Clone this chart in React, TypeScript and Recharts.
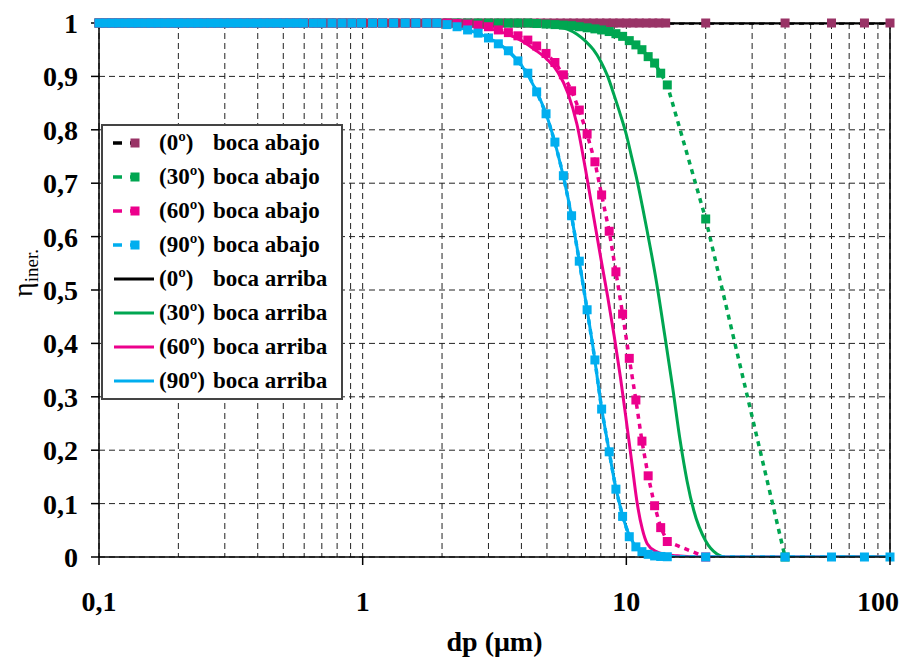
import React from "react";
import { LineChart, Line, XAxis, YAxis, CartesianGrid, Legend, ReferenceLine } from "recharts";

const FONT = '"Liberation Serif", "Times New Roman", serif';

const PURPLE = "#993366";
const GREEN = "#00A651";
const PINK = "#EC008C";
const CYAN = "#00AEEF";

// axis ticks
const X_TICKS = [0.1, 0.2, 0.3, 0.4, 0.5, 0.6, 0.7, 0.8, 0.9, 1, 2, 3, 4, 5, 6, 7, 8, 9, 10, 20, 30, 40, 50, 60, 70, 80, 90, 100];
const X_TICK_LABELS = ["0,1", "", "", "", "", "", "", "", "", "1", "", "", "", "", "", "", "", "", "10", "", "", "", "", "", "", "", "", "100"];
const Y_TICKS = [0, 0.1, 0.2, 0.3, 0.4, 0.5, 0.6, 0.7, 0.8, 0.9, 1];
const Y_TICK_LABELS = ["0", "0,1", "0,2", "0,3", "0,4", "0,5", "0,6", "0,7", "0,8", "0,9", "1"];

// dp (µm) of the 0º "boca abajo" points
const DP_0_ABAJO = [
  0.1, 0.106, 0.112, 0.119, 0.126, 0.133, 0.141, 0.15, 0.158, 0.168,
  0.178, 0.188, 0.2, 0.211, 0.224, 0.237, 0.251, 0.266, 0.282, 0.299,
  0.316, 0.335, 0.355, 0.376, 0.398, 0.422, 0.447, 0.473, 0.501, 0.531,
  0.562, 0.596, 0.631, 0.668, 0.708, 0.75, 0.794, 0.841, 0.891, 0.944,
  1, 1.06, 1.12, 1.19, 1.26, 1.33, 1.41, 1.5, 1.58, 1.68,
  1.78, 1.88, 2, 2.11, 2.24, 2.37, 2.51, 2.66, 2.82, 2.99,
  3.16, 3.35, 3.55, 3.76, 3.98, 4.22, 4.47, 4.73, 5.01, 5.31,
  5.62, 5.96, 6.31, 6.68, 7.08, 7.5, 7.94, 8.41, 8.91, 9.44,
  10, 10.6, 11.2, 11.9, 12.6, 13.3, 14.1,
  20, 40, 60, 80, 100,
];
const ETA_0_ABAJO = [
  1, 1, 1, 1, 1, 1, 1, 1, 1, 1,
  1, 1, 1, 1, 1, 1, 1, 1, 1, 1,
  1, 1, 1, 1, 1, 1, 1, 1, 1, 1,
  1, 1, 1, 1, 1, 1, 1, 1, 1, 1,
  1, 1, 1, 1, 1, 1, 1, 1, 1, 1,
  1, 1, 1, 1, 1, 1, 1, 1, 1, 1,
  1, 1, 1, 1, 1, 1, 1, 1, 1, 1,
  1, 1, 1, 1, 1, 1, 1, 1, 1, 1,
  1, 1, 1, 1, 1, 1, 1,
  1, 1, 1, 1, 1,
];

// dp (µm) of the 30º / 60º / 90º "boca abajo" points
const DP_ABAJO = [
  0.1, 0.106, 0.112, 0.119, 0.126, 0.133, 0.141, 0.15, 0.158, 0.168,
  0.178, 0.188, 0.2, 0.211, 0.224, 0.237, 0.251, 0.266, 0.282, 0.299,
  0.316, 0.335, 0.355, 0.376, 0.398, 0.422, 0.447, 0.473, 0.501, 0.531,
  0.562, 0.596,
  0.65, 0.7, 0.765, 0.835, 0.91, 0.99, 1.09, 1.19, 1.31, 1.45,
  1.59, 1.75, 1.91, 2.09,
  2.28, 2.5, 2.74, 3.0, 3.27, 3.57, 3.88, 4.23, 4.57, 4.96,
  5.36, 5.77, 6.2, 6.63, 7.1, 7.6, 8.06, 8.61, 9.13, 9.68,
  10.26, 10.87, 11.46, 12.1, 12.8, 13.5, 14.3,
  20, 40, 60, 80, 100,
];
const ETA_30_ABAJO = [
  1, 1, 1, 1, 1, 1, 1, 1, 1, 1,
  1, 1, 1, 1, 1, 1, 1, 1, 1, 1,
  1, 1, 1, 1, 1, 1, 1, 1, 1, 1,
  1, 1,
  1, 1, 1, 1, 1, 1, 1, 1, 1, 1,
  1, 1, 1, 1,
  1, 1, 1, 1, 1, 1, 1, 1, 0.999, 0.998,
  0.997, 0.996, 0.995, 0.993, 0.991, 0.989, 0.987, 0.984, 0.98, 0.975,
  0.967, 0.959, 0.95, 0.937, 0.925, 0.906, 0.884,
  0.633, 0,
];
const ETA_60_ABAJO = [
  1, 1, 1, 1, 1, 1, 1, 1, 1, 1,
  1, 1, 1, 1, 1, 1, 1, 1, 1, 1,
  1, 1, 1, 1, 1, 1, 1, 1, 1, 1,
  1, 1,
  1, 1, 1, 1, 1, 1, 1, 1, 1, 1,
  1, 1, 1, 1,
  0.999, 0.998, 0.996, 0.993, 0.987, 0.982, 0.976, 0.968, 0.957, 0.943,
  0.926, 0.903, 0.873, 0.837, 0.792, 0.74, 0.678, 0.61, 0.534, 0.455,
  0.372, 0.294, 0.217, 0.152, 0.096, 0.055, 0.029,
  0,
];
const ETA_90_ABAJO = [
  1, 1, 1, 1, 1, 1, 1, 1, 1, 1,
  1, 1, 1, 1, 1, 1, 1, 1, 1, 1,
  1, 1, 1, 1, 1, 1, 1, 1, 1, 1,
  1, 1,
  1, 1, 1, 1, 1, 1, 1, 1, 1, 1,
  1, 1, 1, 0.997,
  0.993, 0.987, 0.981, 0.972, 0.961, 0.948, 0.929, 0.906, 0.871, 0.83,
  0.777, 0.714, 0.639, 0.554, 0.463, 0.369, 0.277, 0.197, 0.127, 0.076,
  0.038, 0.019, 0.01, 0.005, 0.002, 0.001, 0.0005,
  0, 0, 0, 0, 0,
];

// dp (µm) of the "boca arriba" curves
const DP_ARRIBA = [
  0.1, 1, 2, 2.5, 3, 3.5, 4, 4.5, 5, 5.5,
  6, 6.5, 7, 7.5, 8, 8.5, 9, 9.5, 10, 10.5,
  11, 11.5, 12, 13, 14, 15, 16, 17, 18, 20,
  22, 25, 28, 32, 36, 40, 50, 60, 80, 100,
];
const ETA_0_ARRIBA = [
  1, 1, 1, 1, 1, 1, 1, 1, 1, 1,
  1, 1, 1, 1, 1, 1, 1, 1, 1, 1,
  1, 1, 1, 1, 1, 1, 1, 1, 1, 1,
  1, 1, 1, 1, 1, 1, 1, 1, 1, 1,
];
const ETA_30_ARRIBA = [
  1, 1, 1, 1, 1, 1, 1, 0.999, 0.997, 0.993,
  0.988, 0.979, 0.966, 0.95, 0.928, 0.9, 0.864, 0.828, 0.791, 0.747,
  0.704, 0.657, 0.61, 0.516, 0.414, 0.316, 0.218, 0.142, 0.088, 0.03,
  0.006, -0.004, -0.0075, -0.006, -0.004, -0.003, -0.003, 0, 0, 0,
];
const ETA_60_ARRIBA = [
  1, 1, 0.999, 0.995, 0.99, 0.98, 0.967, 0.95, 0.932, 0.908,
  0.869, 0.81, 0.726, 0.64, 0.56, 0.487, 0.413, 0.336, 0.255, 0.175,
  0.1, 0.052, 0.025, 0.01, 0.005, 0.003, 0.002, 0.001, 0, 0,
  0, 0, 0, 0, 0, 0, 0, 0, 0, 0,
];
const ETA_90_ARRIBA = [
  1, 1, 0.998, 0.987, 0.972, 0.951, 0.921, 0.878, 0.825, 0.755,
  0.674, 0.58, 0.482, 0.388, 0.289, 0.213, 0.144, 0.093, 0.055, 0.031,
  0.017, 0.01, 0.005, 0.002, 0.001, 0, 0, 0, 0, 0,
  0, 0, 0, 0, 0, 0, 0, 0, 0, 0,
];

const LEGEND_ANGLES = ["(0º)", "(30º)", "(60º)", "(90º)", "(0º)", "(30º)", "(60º)", "(90º)"];
const LEGEND_TEXTS = ["boca abajo", "boca abajo", "boca abajo", "boca abajo", "boca arriba", "boca arriba", "boca arriba", "boca arriba"];

const toPoints = (xs: number[], ys: number[]) => ys.map((eta, i) => ({ dp: xs[i], eta }));

const ARRIBA = [
  { data: toPoints(DP_ARRIBA, ETA_0_ARRIBA), color: "#000" },
  { data: toPoints(DP_ARRIBA, ETA_30_ARRIBA), color: GREEN },
  { data: toPoints(DP_ARRIBA, ETA_60_ARRIBA), color: PINK },
  { data: toPoints(DP_ARRIBA, ETA_90_ARRIBA), color: CYAN },
];
const ABAJO = [
  { data: toPoints(DP_0_ABAJO, ETA_0_ABAJO), color: "#000", marker: PURPLE },
  { data: toPoints(DP_ABAJO, ETA_30_ABAJO), color: GREEN, marker: GREEN },
  { data: toPoints(DP_ABAJO, ETA_60_ABAJO), color: PINK, marker: PINK },
  { data: toPoints(DP_ABAJO, ETA_90_ABAJO), color: CYAN, marker: CYAN },
];
const LEGEND_SWATCH = [
  { line: "#000", marker: PURPLE }, { line: GREEN, marker: GREEN },
  { line: PINK, marker: PINK }, { line: CYAN, marker: CYAN },
  { line: "#000" }, { line: GREEN }, { line: PINK }, { line: CYAN },
];

const squareDot = (color: string) => (p: any) => (
  <rect key={`sq-${p.index}`} x={p.cx - 4.5} y={p.cy - 4.5} width={9} height={9} fill={color} />
);

const XTick = (props: any) => {
  const { x, y, payload } = props;
  const idx = X_TICKS.indexOf(payload.value);
  const label = X_TICK_LABELS[idx];
  if (!label) return <g />;
  // last label is pulled inside the frame, as in the original
  const tx = idx === X_TICKS.length - 1 ? x - 12 : x;
  return (
    <g>
      <line x1={x} x2={x} y1={y - 34} y2={y - 26} stroke="#000" strokeWidth={1.5} />
      <text x={tx} y={y} dy="0.71em" textAnchor="middle" fontFamily={FONT} fontWeight="bold" fontSize={28} fill="#000">
        {label}
      </text>
    </g>
  );
};

const XTitle = (props: any) => {
  const vb = props.viewBox;
  return (
    <text x={vb.x + vb.width / 2} y={vb.y + 94} textAnchor="middle" fontFamily={FONT} fontWeight="bold" fontSize={28} fill="#000">
      dp (μm)
    </text>
  );
};

const YTitle = () => (
  <text transform="translate(24 265) rotate(-90)" textAnchor="middle" fontFamily={FONT} fill="#000">
    <tspan fontSize={28}>η</tspan>
    <tspan fontSize={19} dy={6}>iner.</tspan>
  </text>
);

const LegendBox = () => (
  <div style={{
    width: 238, border: "2px solid #444", background: "#fff",
    fontFamily: FONT, fontWeight: "bold", fontSize: 23, color: "#000",
  }}>
    {LEGEND_TEXTS.map((txt, i) => {
      const sw = LEGEND_SWATCH[i];
      return (
        <div key={i} style={{ position: "relative", height: 34, lineHeight: "34px", whiteSpace: "nowrap" }}>
          <svg width={46} height={34} style={{ position: "absolute", left: 10, top: 0 }}>
            {sw.marker ? (
              <>
                <line x1={0} x2={31} y1={17} y2={17} stroke={sw.line} strokeWidth={3.5} strokeDasharray="9 8" />
                <rect x={17.5} y={12.5} width={9} height={9} fill={sw.marker} />
              </>
            ) : (
              <line x1={1} x2={41} y1={17} y2={17} stroke={sw.line} strokeWidth={3} />
            )}
          </svg>
          <span style={{ position: "absolute", left: 56 }}>{LEGEND_ANGLES[i]}</span>
          <span style={{ position: "absolute", left: 110 }}>{txt}</span>
        </div>
      );
    })}
  </div>
);

export default function App() {
  return (
    <div className="chart-wrap" style={{ width: 906, height: 651 }}>
      <style>{`.chart-wrap g[clip-path]{clip-path:none !important;}`}</style>
      <LineChart width={906} height={651} margin={{ top: 15, right: 24, bottom: 0, left: 0 }}>
        <CartesianGrid stroke="#222" strokeDasharray="6 4" />
        <XAxis
          dataKey="dp" type="number" scale="log" domain={[0.1, 100]} ticks={X_TICKS}
          allowDuplicatedCategory={false} interval={0} height={102}
          tick={<XTick />} tickLine={false} tickSize={8} tickMargin={26}
          axisLine={{ stroke: "#000", strokeWidth: 1.5 }}
          label={{ content: XTitle }}
        />
        <YAxis
          type="number" domain={[0, 1]} allowDataOverflow ticks={Y_TICKS} interval={0} width={91}
          tickFormatter={(v: number) => Y_TICK_LABELS[Y_TICKS.indexOf(v)]}
          tick={{ fontFamily: FONT, fontWeight: "bold", fontSize: 28, fill: "#000" }}
          tickSize={8} tickMargin={13}
          tickLine={{ stroke: "#000", strokeWidth: 1.5 }}
          axisLine={{ stroke: "#000", strokeWidth: 1.5 }}
          label={{ content: YTitle }}
        />
        <ReferenceLine x={100} stroke="#000" strokeWidth={1.5} />
        <ReferenceLine y={1} stroke="#000" strokeWidth={1.5} />
        {ARRIBA.map((s, i) => (
          <Line key={`ar-${i}`} data={s.data} dataKey="eta" type="monotone" stroke={s.color}
            strokeWidth={3} dot={false} activeDot={false} isAnimationActive={false} />
        ))}
        {ABAJO.map((s, i) => (
          <Line key={`ab-${i}`} data={s.data} dataKey="eta" type="linear" stroke={s.color}
            strokeWidth={3.5} strokeDasharray="5 5" dot={squareDot(s.marker)} activeDot={false}
            isAnimationActive={false} />
        ))}
        <Legend content={<LegendBox />} layout="vertical" align="center" verticalAlign="middle"
          wrapperStyle={{ left: 93, top: 116, width: 242 }} />
      </LineChart>
    </div>
  );
}
